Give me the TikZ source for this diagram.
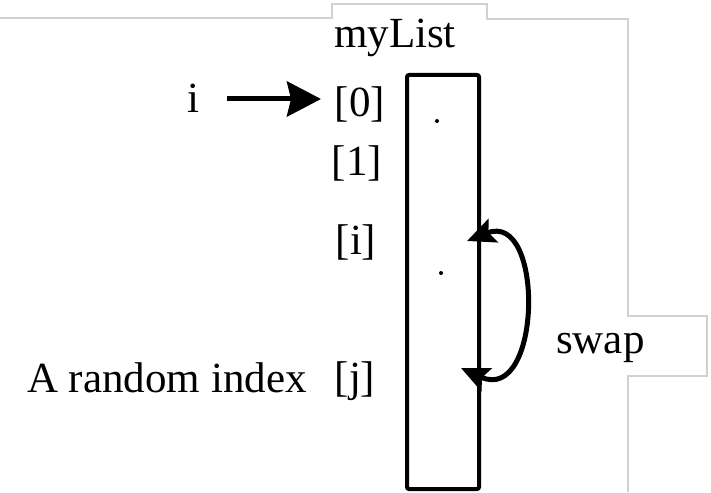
\documentclass[tikz,border=0pt]{standalone}
\usepackage{fontspec}
\setmainfont{Liberation Serif}
\usetikzlibrary{arrows.meta}
\tikzset{
  lbl/.style={font=\fontsize{43}{50}\selectfont, inner sep=0pt, anchor=base},
  frame/.style={draw=black!18, line width=1.2pt},
  thick arrow/.style={line width=5pt, -{Stealth[length=34pt,width=35pt,inset=4pt]}},
  swaparrow/.style={line width=5pt, {Stealth[length=28pt,width=25pt,inset=5pt]}-{Stealth[length=28pt,width=25pt,inset=5pt]}},
  listbox/.style={draw=black, line width=4pt, rounded corners=2pt}
}
\begin{document}
\begin{tikzpicture}[x=1pt,y=-1pt]
\useasboundingbox (0,0) rectangle (711,492);
% gray outline
\draw[frame] (0,18) -- (332,18) -- (332,4) -- (487,4) -- (487,19) -- (628,19) -- (628,316) -- (707,316) -- (707,376) -- (628,376) -- (628,492);
% list box
\draw[listbox] (407,75) rectangle (479,489);
\fill (437,121) circle (2);
\fill (441,273) circle (2);
% labels
\node[lbl] (title) at (395,48) {myList};
\node[lbl] (i) at (193,113) {i};
\node[lbl] (n0) at (360,117) {[0]};
\node[lbl] (n1) at (357,175) {[1]};
\node[lbl] (ni) at (356,254) {[i]};
\node[lbl] (nj) at (355,391) {[j]};
\node[lbl, anchor=base west] (rand) at (27,392) {A random index};
\node[lbl, anchor=base west] (swap) at (556,353) {swap};
% i arrow
\coordinate (a0) at (227,99);
\coordinate (a1) at (321,99);
\draw[thick arrow] (a0) -- (a1);
% swap arrow
\coordinate (si) at (467,241);
\coordinate (sj) at (461,368);
\draw[swaparrow] (si) .. controls (545,210) and (542,405) .. (sj);
\end{tikzpicture}
\end{document}
